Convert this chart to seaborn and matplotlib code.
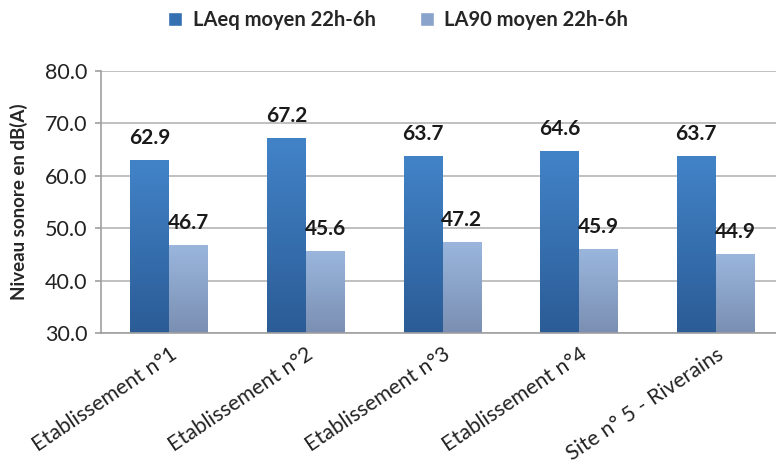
import matplotlib
matplotlib.use("Agg")
import matplotlib.pyplot as plt
import seaborn as sns
import numpy as np
import pandas as pd
from matplotlib.patches import Patch

categories = ["Etablissement n°1", "Etablissement n°2", "Etablissement n°3",
              "Etablissement n°4", "Site n° 5 - Riverains"]
series_names = ["LAeq moyen 22h-6h", "LA90 moyen 22h-6h"]
laeq = [62.9, 67.2, 63.7, 64.6, 63.7]
la90 = [46.7, 45.6, 47.2, 45.9, 44.9]
y_ticks = [30.0, 40.0, 50.0, 60.0, 70.0, 80.0]
y_label = "Niveau sonore en dB(A)"

sns.set_style("white")
plt.rcParams['font.family'] = ['Lato', 'DejaVu Sans']

df = pd.DataFrame({
    "cat": categories * 2,
    "serie": [series_names[0]] * len(categories) + [series_names[1]] * len(categories),
    "val": laeq + la90,
})

top_cols = ["#4283c8", "#9ab6dd"]
bot_cols = ["#2b5c96", "#7a8fb2"]
mid_cols = ["#3570b0", "#8aa3ca"]

W, H = 776, 466
fig = plt.figure(figsize=(W / 100, H / 100), dpi=100)
x0, x1 = 101, 784
y_top, y_bot = 71, 333
ax = fig.add_axes([x0 / W, 1 - y_bot / H, (x1 - x0) / W, (y_bot - y_top) / H])

sns.barplot(data=df, x="cat", y="val", hue="serie", order=categories,
            hue_order=series_names, palette=mid_cols, width=0.57,
            ax=ax, legend=False, saturation=1, linewidth=0)

ymin, ymax = 30, 80
ax.set_ylim(ymin, ymax)
ax.set_xlim(-0.5, len(categories) - 0.5)

# gradient fill on each bar (visible part only, from axis floor to bar top)
grad = np.linspace(0, 1, 256).reshape(-1, 1)
for i, cont in enumerate(ax.containers):
    c_top = np.array(matplotlib.colors.to_rgb(top_cols[i]))
    c_bot = np.array(matplotlib.colors.to_rgb(bot_cols[i]))
    img = c_top[None, None, :] * (1 - grad[:, :, None]) + c_bot[None, None, :] * grad[:, :, None]
    for p in cont.patches:
        bx, bw = p.get_x(), p.get_width()
        btop = p.get_y() + p.get_height()
        ax.imshow(img, extent=[bx, bx + bw, ymin, btop], aspect='auto',
                  zorder=p.get_zorder() + 0.1, origin='upper', interpolation='bilinear')
    ax.bar_label(cont, fmt="%.1f", padding=9, fontsize=15, fontweight='bold',
                 color='#1a1a1a', zorder=5)
ax.set_xlim(-0.5, len(categories) - 0.5)
ax.set_ylim(ymin, ymax)

ax.set_yticks(y_ticks)
ax.set_yticklabels([f"{v:.1f}" for v in y_ticks], fontsize=15.5, color='#222222')
ax.yaxis.grid(True, color='#b5b5b5', linewidth=1.2)
ax.set_axisbelow(True)

ax.set_xticks(range(len(categories)))
ax.set_xticklabels(categories, rotation=34, ha='right', rotation_mode='anchor',
                   fontsize=15.3, color='#222222')
ax.tick_params(axis='x', which='major', length=0, pad=8)
ax.set_xticks(np.arange(-0.5, len(categories), 1.0), minor=True)
ax.tick_params(axis='x', which='minor', length=5, color='#a0a0a0', width=1.2, direction='out')
ax.tick_params(axis='y', which='major', length=4, color='#a0a0a0', width=1.2, direction='out', pad=6, left=True)
ax.set_xlabel("")
ax.set_ylabel(y_label, fontsize=13.5, fontweight='bold', labelpad=12)

for s in ['top', 'right']:
    ax.spines[s].set_visible(False)
for s in ['left', 'bottom']:
    ax.spines[s].set_color('#a0a0a0')
    ax.spines[s].set_linewidth(1.2)
    ax.spines[s].set_zorder(6)

handles = [Patch(facecolor=mid_cols[0]), Patch(facecolor=mid_cols[1])]
fig.legend(handles, series_names, loc='center', bbox_to_anchor=(0.513, 0.957),
           ncol=2, frameon=False, prop={'weight': 'bold', 'size': 14.5},
           handlelength=0.7, handleheight=0.7, columnspacing=2.2, handletextpad=0.5)

fig.savefig("out.png", dpi=100)
